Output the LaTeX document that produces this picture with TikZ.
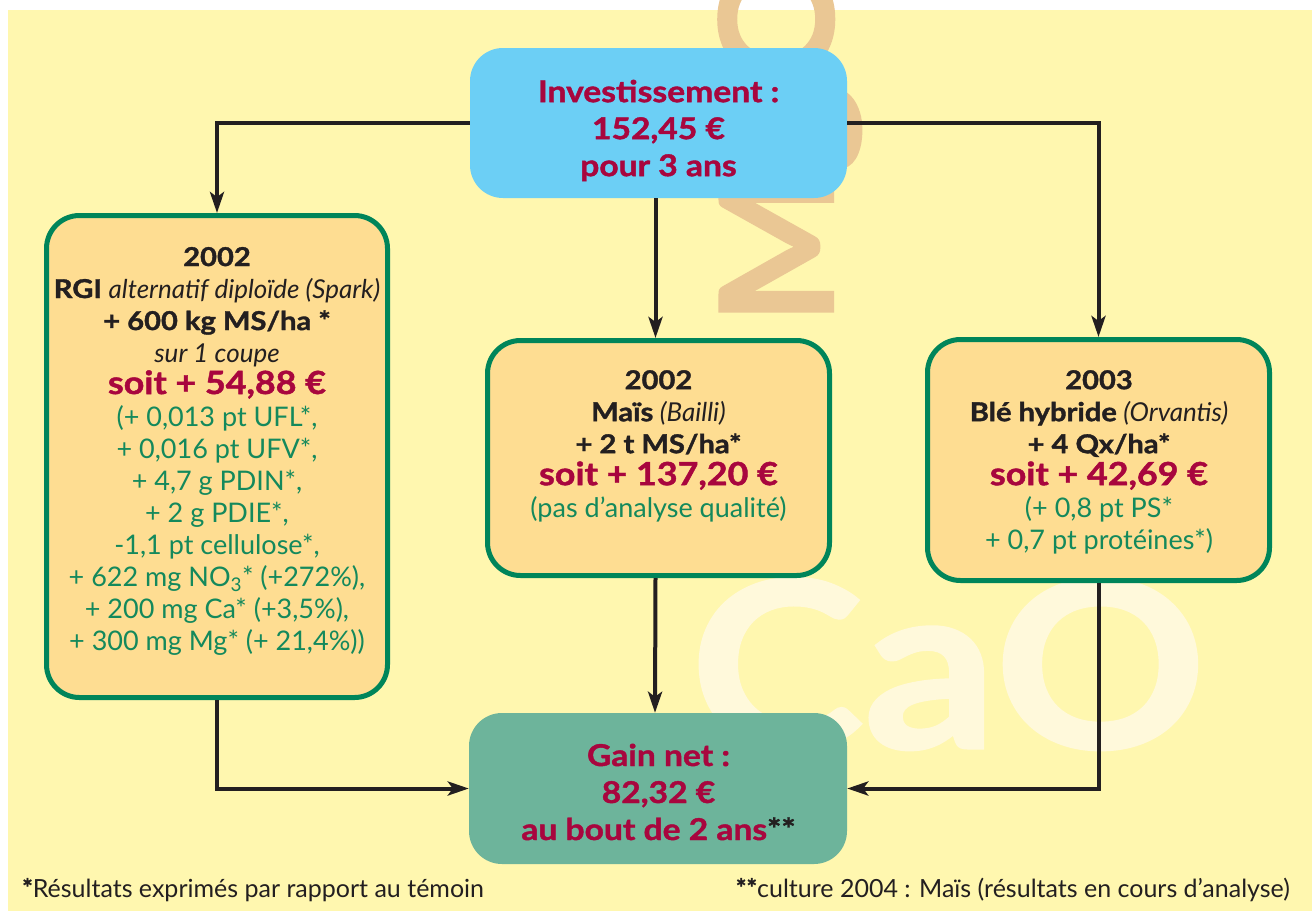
\documentclass[tikz,border=0pt]{standalone}
\usepackage{fontspec}
\usepackage{graphicx}
\setmainfont{Lato}[BoldFeatures={FakeBold=1.3}]
\usetikzlibrary{arrows.meta}
\definecolor{bgy}{HTML}{FFF7AF}
\definecolor{tanw}{HTML}{EAC794}
\definecolor{caow}{HTML}{FFF9DB}
\definecolor{skyb}{HTML}{6CCFF5}
\definecolor{ofill}{HTML}{FEDD92}
\definecolor{gbord}{HTML}{00855A}
\definecolor{gtext}{HTML}{14895C}
\definecolor{crim}{HTML}{A8063E}
\definecolor{gainc}{HTML}{6DB49B}
\definecolor{darkc}{HTML}{231F20}
\newcommand\redl[1]{{\fontsize{32}{32}\selectfont\bfseries\color{crim}\scalebox{1.12}[1]{#1}}}
\newcommand\grnl[1]{{\fontsize{27}{32}\selectfont\color{gtext}#1}}
\newcommand\bgl[1]{\scalebox{1.12}[1]{#1}}
\newcommand\blkb[1]{{\bfseries\scalebox{1.12}[1]{#1}}}
\begin{document}
\begin{tikzpicture}[x=1pt,y=-1pt,
  cbox/.style={draw=gbord, line width=5pt, fill=ofill, rounded corners=33pt, inner sep=0pt},
  pbox/.style={rounded corners=33pt, inner sep=0pt},
  txt/.style={align=center, text=darkc, inner sep=0pt, font=\fontsize{26}{32}\selectfont},
  big/.style={align=center, text=crim, inner sep=0pt, font=\fontsize{30}{37}\selectfont\bfseries},
  arr/.style={draw=darkc, line width=4pt, -{Stealth[length=21pt,width=14pt,inset=5pt]}},
  foot/.style={text=darkc, inner sep=0pt, font=\fontsize{25}{28}\selectfont}]
\useasboundingbox (0,0) rectangle (1315,911);
\fill[white] (0,0) rectangle (1315,911);
\fill[bgy] (8,10) rectangle (1312,911);
% watermarks
\node[inner sep=0pt, anchor=base west, text=caow, font=\fontsize{232}{232}\selectfont\bfseries] (cao) at (690,748) {\scalebox{1.13}[1]{CaO}};
\node[inner sep=0pt, anchor=base west, rotate=90, text=tanw, font=\fontsize{157}{157}\selectfont\bfseries] (mgo) at (833,325) {\scalebox{1.05}[1]{MgO}};
% boxes
\node[pbox, fill=skyb, minimum width=377pt, minimum height=150pt] (inv) at (658.5,123) {};
\node[cbox, minimum width=341pt, minimum height=482pt] (L) at (217,456.5) {};
\node[cbox, minimum width=342pt, minimum height=235pt] (M) at (658.5,458) {};
\node[cbox, minimum width=342pt, minimum height=241pt] (R) at (1098.5,460) {};
\node[pbox, fill=gainc, minimum width=378pt, minimum height=151pt] (G) at (658,788.5) {};
% texts
\node[big] (invt) at (658.5,130.5) {\bgl{Investissement :}\\\bgl{152,45 €}\\\bgl{pour 3 ans}};
\node[txt] (Lt) at (217,451) {\blkb{2002}\\
  \blkb{RGI} \textit{alternatif diploïde (Spark)}\\
  \blkb{+ 600 kg MS/ha *}\\
  \itshape sur 1 coupe\\
  \redl{soit + 54,88 €}\\
  \grnl{(+ 0,013 pt UFL*,}\\
  \grnl{+ 0,016 pt UFV*,}\\
  \grnl{+ 4,7 g PDIN*,}\\
  \grnl{+ 2 g PDIE*,}\\
  \grnl{-1,1 pt cellulose*,}\\
  \grnl{+ 622 mg NO\textsubscript{3}* (+272\%),}\\
  \grnl{+ 200 mg Ca* (+3,5\%),}\\
  \grnl{+ 300 mg Mg* (+ 21,4\%))}};
\node[txt] (Mt) at (658.5,446) {\blkb{2002}\\
  \blkb{Maïs} \textit{(Bailli)}\\
  \blkb{+ 2 t MS/ha*}\\
  \redl{soit + 137,20 €}\\
  \grnl{(pas d’analyse qualité)}};
\node[txt] (Rt) at (1099,462) {\blkb{2003}\\
  \blkb{Blé hybride} \textit{(Orvantis)}\\
  \blkb{+ 4 Qx/ha*}\\
  \redl{soit + 42,69 €}\\
  \grnl{(+ 0,8 pt PS*}\\
  \grnl{+ 0,7 pt protéines*)}};
\node[big] (Gt) at (658.5,792) {\bgl{Gain net :}\\\bgl{82,32 €}\\\bgl{au bout de 2 ans{\color{darkc}**}}};
% connectors
\draw[arr] (inv.west) -| (L.north);
\draw[arr] (inv.east) -| (R.north);
\draw[arr] ([xshift=-3pt]inv.south) -- ([xshift=-3pt]M.north);
\draw[arr] ([xshift=-3pt]M.south) -- ([xshift=-3pt]G.north);
\draw[arr] (L.south) |- (G.west);
\draw[arr] (R.south) |- (G.east);
% footnotes
\node[foot, anchor=base west] (f1) at (22,897) {\textbf{*}Résultats exprimés par rapport au témoin};
\node[foot, anchor=base east] (f2) at (1290,897) {\textbf{**}culture 2004 : Maïs (résultats en cours d’analyse)};
\end{tikzpicture}
\end{document}
